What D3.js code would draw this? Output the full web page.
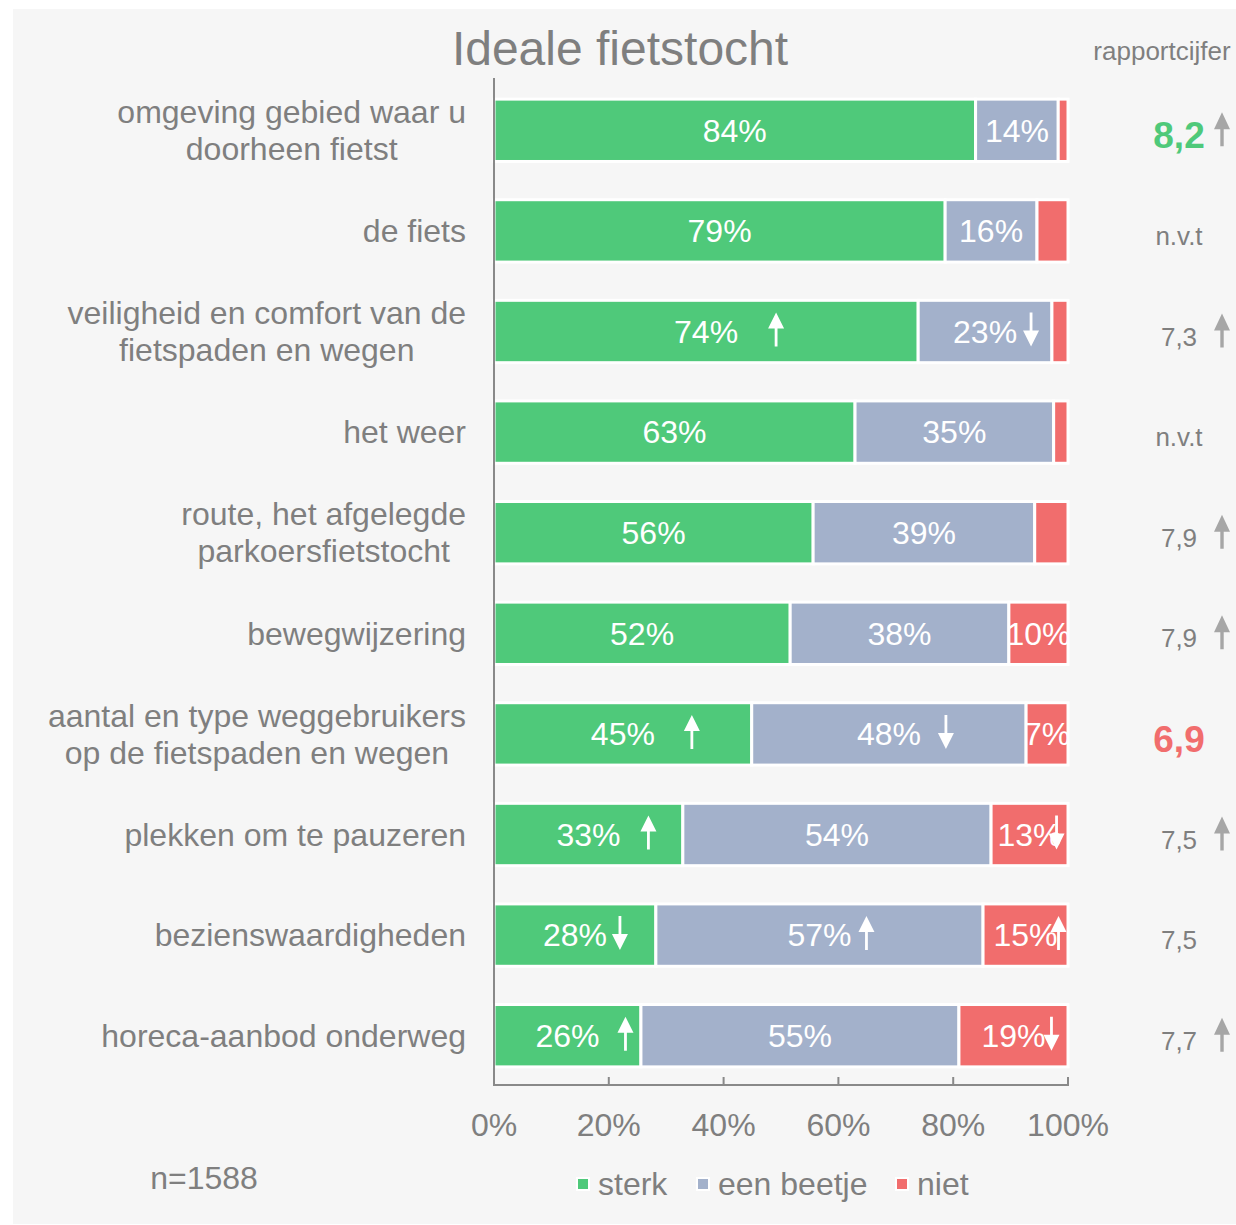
<!DOCTYPE html>
<html>
<head>
<meta charset="utf-8">
<script src="https://cdn.jsdelivr.net/npm/d3@7"></script>
<style>
  body { margin: 0; background: #fff; }
  svg text { font-family: "Liberation Sans", Arial, sans-serif; }
</style>
</head>
<body>
<div id="chart"></div>
<script>
// data
const categories = [
  ['omgeving gebied waar u', 'doorheen fietst'],
  ['de fiets'],
  ['veiligheid en comfort van de', 'fietspaden en wegen'],
  ['het weer'],
  ['route, het afgelegde', 'parkoersfietstocht'],
  ['bewegwijzering'],
  ['aantal en type weggebruikers', 'op de fietspaden en wegen'],
  ['plekken om te pauzeren'],
  ['bezienswaardigheden'],
  ['horeca-aanbod onderweg']
];
const seriesNames = ['sterk', 'een beetje', 'niet'];
const sterk     = [83.9, 78.6, 73.9, 62.9, 55.6, 51.6, 44.9, 32.9, 28.2, 25.6];
const eenBeetje = [14.4, 16.0, 23.3, 34.6, 38.6, 38.1, 47.8, 53.7, 57.0, 55.4];
const niet      = [ 1.7,  5.4,  2.8,  2.5,  5.8, 10.3,  7.3, 13.4, 14.8, 19.0];
const xTicks = [0, 20, 40, 60, 80, 100];

// significant changes shown as arrows inside the bars (row, series index, direction)
const trendArrows = [
  { row: 2, series: 0, dir: 'up' }, { row: 2, series: 1, dir: 'down' },
  { row: 6, series: 0, dir: 'up' }, { row: 6, series: 1, dir: 'down' },
  { row: 7, series: 0, dir: 'up' }, { row: 7, series: 2, dir: 'down' },
  { row: 8, series: 0, dir: 'down' }, { row: 8, series: 1, dir: 'up' }, { row: 8, series: 2, dir: 'up' },
  { row: 9, series: 0, dir: 'up' }, { row: 9, series: 2, dir: 'down' }
];
const cijfers = [8.2, null, 7.3, null, 7.9, 7.9, 6.9, 7.5, 7.5, 7.7];
const cijferTrend = ['up', null, 'up', null, 'up', 'up', null, 'up', null, 'up'];
const sampleSize = 'n=1588';

// layout (kept apart from the data)
const arrowDx = [70, 46, 69, 57, 60, 27, 45, 47, 33, 58, 38];
const W = 1236, H = 1225;
const colors = ['#4fc97a', '#a3b1cb', '#f16d6d'];
const textGray = '#7f7f7f';
const axisGray = '#898989';

const svg = d3.select('#chart').append('svg').attr('width', W).attr('height', H);
svg.append('rect').attr('x', 13).attr('y', 9).attr('width', W - 13).attr('height', 1215).attr('fill', '#f6f6f6');

const x = d3.scaleLinear().domain([0, 100]).range([494, 1068]);
const y = d3.scaleBand().domain(d3.range(categories.length)).range([80, 1086]).paddingInner(0.38).paddingOuter(0.19);
const yc = i => y(i) + y.bandwidth() / 2;

svg.append('text').attr('x', 620).attr('y', 48).attr('dy', '0.35em').attr('text-anchor', 'middle')
  .attr('font-size', 48).attr('fill', textGray).text('Ideale fietstocht');

// stacked rows
const rows = categories.map((c, i) => {
  const vals = [sterk[i], eenBeetje[i], niet[i]];
  let acc = 0;
  return vals.map((v, s) => { const seg = { row: i, series: s, v, x0: acc, x1: acc + v }; acc += v; return seg; });
});
const segs = rows.flat();

const defs = svg.append('defs');
defs.selectAll('clipPath').data(segs).join('clipPath')
  .attr('id', d => `clip-${d.row}-${d.series}`)
  .append('rect')
  .attr('x', d => x(d.x0)).attr('y', d => y(d.row))
  .attr('width', d => x(d.x1) - x(d.x0)).attr('height', y.bandwidth());

const barG = svg.append('g');
barG.selectAll('rect').data(segs).join('rect')
  .attr('x', d => x(d.x0)).attr('y', d => y(d.row))
  .attr('width', d => x(d.x1) - x(d.x0)).attr('height', y.bandwidth())
  .attr('fill', d => colors[d.series])
  .attr('stroke', '#fff').attr('stroke-width', 3);

barG.selectAll('text').data(segs.filter(d => d.v >= 7)).join('text')
  .attr('clip-path', d => `url(#clip-${d.row}-${d.series})`)
  .attr('x', d => x((d.x0 + d.x1) / 2)).attr('y', d => yc(d.row)).attr('dy', '0.35em')
  .attr('text-anchor', 'middle').attr('font-size', 32).attr('fill', '#fff')
  .text(d => Math.round(d.v) + '%');

function arrowPath(cx, top, bottom, dir, headW, headH, stem) {
  const hw = headW / 2, sw = stem / 2;
  if (dir === 'up') {
    return `M${cx},${top} L${cx + hw},${top + headH} L${cx + sw},${top + headH} L${cx + sw},${bottom} L${cx - sw},${bottom} L${cx - sw},${top + headH} L${cx - hw},${top + headH} Z`;
  }
  return `M${cx},${bottom} L${cx + hw},${bottom - headH} L${cx + sw},${bottom - headH} L${cx + sw},${top} L${cx - sw},${top} L${cx - sw},${bottom - headH} L${cx - hw},${bottom - headH} Z`;
}

svg.append('g').selectAll('path').data(trendArrows).join('path')
  .attr('d', (d, k) => {
    const seg = rows[d.row][d.series];
    const cx = x((seg.x0 + seg.x1) / 2) + arrowDx[k];
    return arrowPath(cx, yc(d.row) - 19, yc(d.row) + 15, d.dir, 16, 16, 2.8);
  })
  .attr('fill', '#fff');

// category labels: centred block, right edge at the axis gap
const labelG = svg.append('g');
categories.forEach((lines, i) => {
  const t = labelG.append('text').attr('font-size', 32).attr('fill', textGray).attr('text-anchor', 'middle');
  const lh = 37;
  lines.forEach((ln, k) => {
    t.append('tspan').attr('y', yc(i) + (k - (lines.length - 1) / 2) * lh).attr('dy', '0.35em').text(ln);
  });
  let maxW = 0;
  t.selectAll('tspan').each(function () { maxW = Math.max(maxW, this.getComputedTextLength()); });
  t.selectAll('tspan').attr('x', 466 - maxW / 2);
});

// axes
const axisG = svg.append('g').attr('stroke', axisGray).attr('stroke-width', 2);
axisG.append('line').attr('x1', x(0)).attr('x2', x(0)).attr('y1', 78).attr('y2', 1086);
axisG.append('line').attr('x1', x(0) - 1).attr('x2', x(100) + 1).attr('y1', 1085).attr('y2', 1085);
axisG.selectAll('line.tick').data(xTicks.slice(1)).join('line').attr('class', 'tick')
  .attr('x1', d => x(d)).attr('x2', d => x(d)).attr('y1', 1077).attr('y2', 1085);
svg.append('g').selectAll('text').data(xTicks).join('text')
  .attr('x', d => x(d)).attr('y', 1125).attr('dy', '0.35em').attr('text-anchor', 'middle')
  .attr('font-size', 32).attr('fill', textGray).text(d => d + '%');

// rapportcijfer column
svg.append('text').attr('x', 1162).attr('y', 51).attr('dy', '0.35em').attr('text-anchor', 'middle')
  .attr('font-size', 26).attr('fill', textGray).text('rapportcijfer');
const cMax = d3.max(cijfers), cMin = d3.min(cijfers);
const fmt = v => v.toFixed(1).replace('.', ',');
svg.append('g').selectAll('text').data(cijfers).join('text')
  .attr('x', 1179).attr('y', (d, i) => yc(i) + 5).attr('dy', '0.35em').attr('text-anchor', 'middle')
  .attr('font-size', d => (d === cMax || d === cMin) ? 37 : 26)
  .attr('font-weight', d => (d === cMax || d === cMin) ? 'bold' : 'normal')
  .attr('fill', d => d === cMax ? colors[0] : d === cMin ? colors[2] : textGray)
  .text(d => d === null ? 'n.v.t' : fmt(d));
svg.append('g').selectAll('path').data(cijferTrend.map((t, i) => ({ t, i })).filter(d => d.t)).join('path')
  .attr('d', d => arrowPath(1222, yc(d.i) - 18, yc(d.i) + 16, d.t, 16, 17, 3.4))
  .attr('fill', '#a6a6a6');

// legend
const legendX = [577, 697, 896];
const lg = svg.append('g').selectAll('g').data(seriesNames).join('g')
  .attr('transform', (d, i) => `translate(${legendX[i]},1184)`);
lg.append('rect').attr('x', 0).attr('y', -6).attr('width', 12).attr('height', 12)
  .attr('fill', (d, i) => colors[i]).attr('stroke', '#fff').attr('stroke-width', 2);
lg.append('text').attr('x', 21).attr('dy', '0.35em').attr('font-size', 32).attr('fill', textGray).text(d => d);

svg.append('text').attr('x', 204).attr('y', 1178).attr('dy', '0.35em').attr('text-anchor', 'middle')
  .attr('font-size', 32).attr('fill', textGray).text(sampleSize);
</script>
</body>
</html>
